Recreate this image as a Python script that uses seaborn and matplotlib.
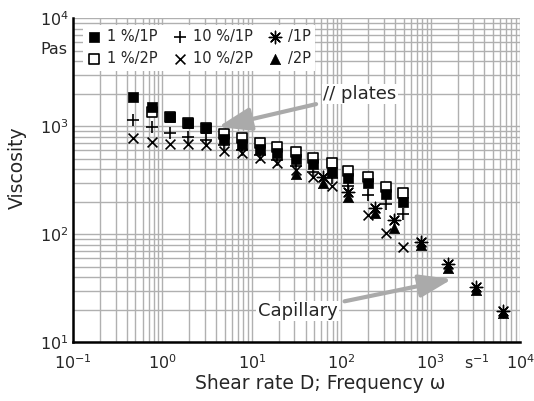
import numpy as np
import pandas as pd
import seaborn as sns
import matplotlib.pyplot as plt
from matplotlib.ticker import LogLocator, NullFormatter

# shear rates of the plate measurements (s^-1)
rate_plates = [0.47, 0.77, 1.21, 1.92, 3.09, 4.92, 7.85, 12.3, 19.3, 31.0,
               48.9, 79.5, 120, 198, 315, 495]
visc_1pct_1p = [1884, 1521, 1212, 1080, 957, 757, 685, 612, 562, 495,
                444, 380, 330, 296, 234, 200]
rate_1pct_2p = rate_plates[1:]
visc_1pct_2p = [1349, 1212, 1080, 957, 848, 774, 705, 647, 574, 512,
                454, 388, 336, 272, 239]
visc_10pct_1p = [1143, 979, 861, 801, 747, 671, 603, 542, 487, 428,
                 377, 331, 279, 230, 190, 154]
rate_10pct_2p = rate_plates[:12] + [198, 315, 495]
visc_10pct_2p = [783, 720, 681, 681, 671, 595, 562, 505, 454, 393,
                 336, 281, 150, 102, 76]

# capillary
rate_cap_1p = [63, 120, 239, 393, 781, 1578, 3221, 6427]
visc_cap_1p = [341, 246, 173, 134, 85, 53.3, 32.7, 19.4]
rate_cap_2p = [31, 63, 120, 239, 393, 781, 1578, 3221, 6427]
visc_cap_2p = [361, 296, 223, 156, 115, 79, 49, 30.3, 18.7]

sns.set_style("white")
plt.rcParams['font.family'] = ['DejaVu Sans']
plt.rcParams['mathtext.fontset'] = 'dejavusans'

fig = plt.figure(figsize=(5.34, 4.01), dpi=100)
ax = fig.add_axes([0.1367, 0.1471, 0.8371, 0.8068])

# drawing order: open under filled, triangles under asterisks
series = [
    ("1 %/2P", rate_1pct_2p, visc_1pct_2p, dict(marker="s", color="white", edgecolor="black", s=48, linewidth=1.2)),
    ("1 %/1P", rate_plates, visc_1pct_1p, dict(marker="s", color="black", edgecolor="black", s=48, linewidth=0.5)),
    ("10 %/1P", rate_plates, visc_10pct_1p, dict(marker="+", color="black", s=70, linewidth=1.2)),
    ("10 %/2P", rate_10pct_2p, visc_10pct_2p, dict(marker="x", color="black", s=50, linewidth=1.2)),
    ("/2P", rate_cap_2p, visc_cap_2p, dict(marker="^", color="black", edgecolor="black", s=55, linewidth=0.5)),
    ("/1P", rate_cap_1p, visc_cap_1p, dict(marker=(8, 2, 0), color="black", s=80, linewidth=1.0)),
]
for name, x, y, kw in series:
    df = pd.DataFrame({"rate": x, "visc": y})
    sns.scatterplot(data=df, x="rate", y="visc", ax=ax, label=name, zorder=3, **kw)

ax.set_xscale("log")
ax.set_yscale("log")
ax.set_xlim(0.1, 1e4)
ax.set_ylim(10, 1e4)

for axis in (ax.xaxis, ax.yaxis):
    axis.set_major_locator(LogLocator(base=10))
    axis.set_minor_locator(LogLocator(base=10, subs=range(2, 10)))
    axis.set_minor_formatter(NullFormatter())
ax.grid(which="both", color="#b0b0b0", linewidth=1)
ax.set_axisbelow(True)

for side in ("top", "right"):
    ax.spines[side].set_visible(False)
for side in ("left", "bottom"):
    ax.spines[side].set_color("black")
    ax.spines[side].set_linewidth(1.8)

ax.tick_params(which="both", length=0, labelsize=11.5)
ax.tick_params(axis="x", pad=8)
ax.tick_params(axis="y", pad=3)

ax.set_xlabel("Shear rate D; Frequency ω", fontsize=13.5)
ax.set_ylabel("Viscosity", fontsize=13.5)
ax.xaxis.set_label_coords(0.553, -0.098)
ax.yaxis.set_label_coords(-0.103, 0.538)

ax.text(-0.012, 0.903, "Pas", transform=ax.transAxes, ha="right", va="center", fontsize=11.5)
ax.text(0.904, -0.065, "s$^{-1}$", transform=ax.transAxes, ha="center", va="center", fontsize=11.5)

arrow = dict(arrowstyle="-|>,head_length=1.0,head_width=0.35", color="#aaaaaa",
             lw=3, mutation_scale=20, shrinkA=4, shrinkB=0)
ax.annotate("// plates", xy=(4.19, 986), xytext=(62.5, 1995), ha="left", va="center",
            fontsize=13, arrowprops=arrow, bbox=dict(fc="white", ec="none", pad=1), zorder=4)
ax.annotate("Capillary", xy=(1734, 38.3), xytext=(11.7, 19.4), ha="left", va="center",
            fontsize=13, arrowprops=arrow, bbox=dict(fc="white", ec="none", pad=1), zorder=4)

handles, labels = ax.get_legend_handles_labels()
order = ["1 %/1P", "1 %/2P", "10 %/1P", "10 %/2P", "/1P", "/2P"]
hmap = dict(zip(labels, handles))
leg = ax.legend([hmap[k] for k in order], order, ncol=3, loc="upper left",
                bbox_to_anchor=(0.015, 0.99), frameon=True, framealpha=1,
                edgecolor="none", fancybox=False, fontsize=10.5,
                handletextpad=0.4, columnspacing=1.0, borderpad=0.3,
                labelspacing=0.5, handlelength=1.0, borderaxespad=0.2)

fig.savefig("out.png", dpi=100)
